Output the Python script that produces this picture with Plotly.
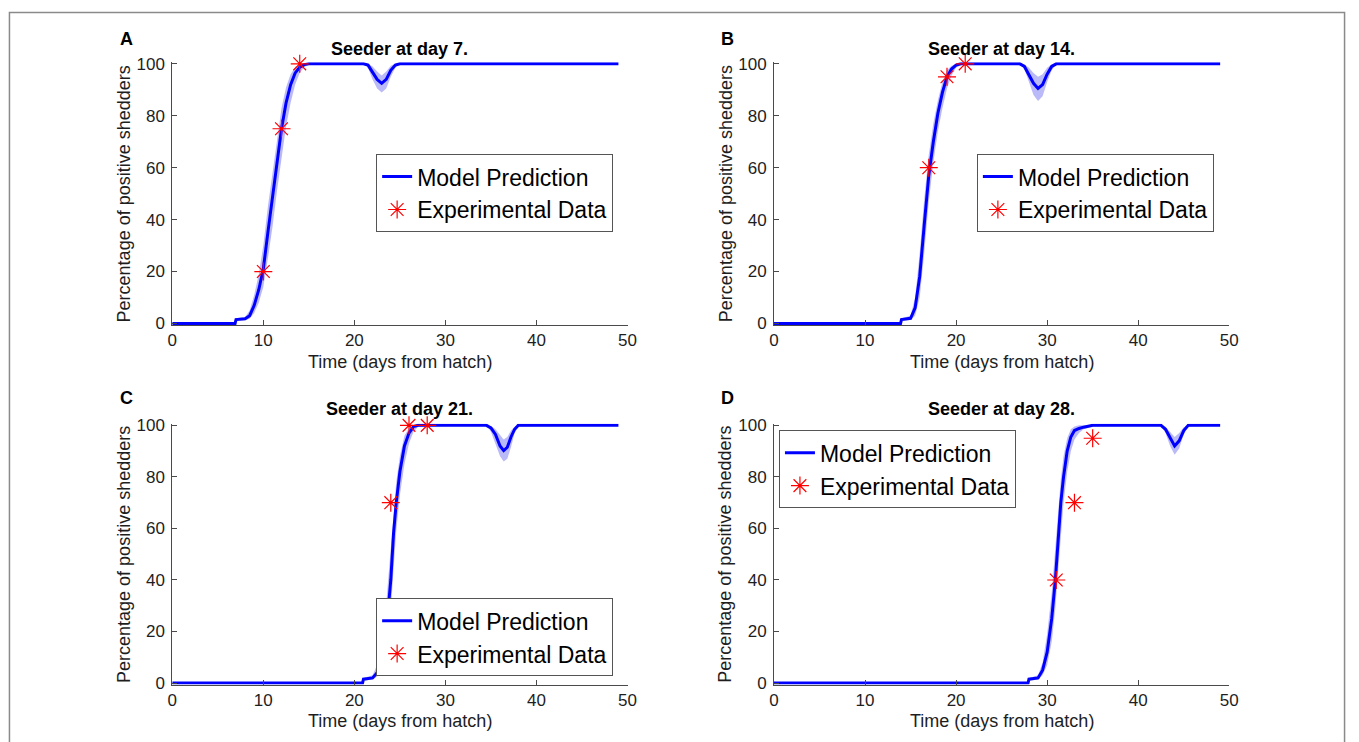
import plotly.graph_objects as go

# ---- data -------------------------------------------------------------
panel_letters = ["A", "B", "C", "D"]
panel_titles = ["Seeder at day 7.", "Seeder at day 14.", "Seeder at day 21.", "Seeder at day 28."]

# panel A: seeder introduced at day 7
t_a = [0, 6.9, 7, 8, 8.5, 9, 9.5, 10, 10.5, 11, 11.5, 12, 12.5, 13, 13.5, 14, 14.5, 15, 15.5,
       21, 21.5, 22, 22.5, 23, 23.5, 24, 24.5, 25, 49]
model_a = [0, 0, 1.5, 1.8, 3, 7, 13, 21, 35, 48, 62, 75, 85, 92, 96.5, 98.7, 99.7, 100, 100,
           100, 99.5, 97, 94, 92.5, 94, 97.5, 99.5, 100, 100]
upper_a = [0, 0, 2, 2.5, 5, 11, 19, 30, 45, 58, 71, 83, 91, 96, 98.8, 99.8, 100, 100, 100,
           100, 100, 99, 97, 95.5, 97, 99.3, 100, 100, 100]
lower_a = [0, 0, 1, 1.2, 1.8, 4, 8, 14, 25, 37, 51, 64, 76, 85, 92, 96.5, 98.8, 99.7, 100,
           100, 98.5, 94, 90.5, 89, 90.5, 95, 98.5, 99.8, 100]
obs_t_a = [10, 12, 14]
obs_v_a = [20, 75, 100]

# panel B: seeder introduced at day 14
t_b = [0, 13.9, 14, 15, 15.5, 16, 16.5, 17, 17.5, 18, 18.5, 19, 19.5, 20, 20.5, 21,
       27, 27.5, 28, 28.5, 29, 29.5, 30, 30.5, 31, 49]
model_b = [0, 0, 1.5, 2, 6, 18, 38, 57, 70, 81, 89, 95, 98, 99.5, 100, 100,
           100, 99, 96, 92.5, 90.5, 92, 96, 99, 100, 100]
upper_b = [0, 0, 2, 3, 10, 27, 48, 65, 77, 86, 93, 97.5, 99.3, 100, 100, 100,
           100, 99.7, 98.5, 96.5, 95, 96, 98.5, 99.8, 100, 100]
lower_b = [0, 0, 1, 1.3, 3, 10, 27, 47, 62, 74, 83, 90.5, 95.5, 98.5, 99.5, 100,
           100, 98, 93, 88, 85.7, 87.5, 93, 97.5, 99.7, 100]
obs_t_b = [17, 19, 21]
obs_v_b = [60, 95, 100]

# panel C: seeder introduced at day 21
t_c = [0, 20.9, 21, 22, 22.5, 23, 23.5, 24, 24.3, 24.6, 25, 25.5, 26, 26.5, 27,
       34.5, 35, 35.5, 36, 36.4, 36.8, 37.2, 37.6, 38, 49]
model_c = [0, 0, 1.5, 2, 4, 9, 20, 40, 58, 70, 82, 92, 97, 99.5, 100,
           100, 99, 96.5, 92, 90.2, 91.5, 95.5, 98.5, 100, 100]
upper_c = [0, 0, 2, 3, 7, 15, 31, 53, 67, 78, 88, 96, 99, 100, 100,
           100, 99.8, 98.5, 96, 94.5, 95.5, 98, 99.5, 100, 100]
lower_c = [0, 0, 1, 1.3, 2.5, 5, 12, 28, 44, 59, 73, 85, 93, 97.5, 99.5,
           100, 97.5, 93, 88, 86, 87, 91.5, 97, 99.5, 100]
obs_t_c = [24, 26, 28]
obs_v_c = [70, 100, 100]

# panel D: seeder introduced at day 28
t_d = [0, 27.9, 28, 29, 29.5, 30, 30.5, 30.9, 31.2, 31.5, 31.8, 32.2, 32.6, 33, 33.5, 34, 35,
       42.5, 43, 43.5, 44, 44.5, 45, 45.5, 49]
model_d = [0, 0, 1.5, 2, 5, 12, 25, 40, 55, 70, 80, 90, 95.5, 98, 98.8, 99.3, 100,
           100, 98.5, 95, 92, 94, 98, 100, 100]
upper_d = [0, 0, 2, 3, 8, 19, 35, 52, 67, 79, 88, 95, 98.5, 99.6, 100, 100, 100,
           100, 99.5, 97.5, 95.5, 97, 99.3, 100, 100]
lower_d = [0, 0, 1, 1.3, 3, 7, 16, 29, 43, 58, 70, 82, 90, 94.5, 97, 98.5, 99.5,
           100, 97, 92, 88.6, 91, 96.5, 99.5, 100]
obs_t_d = [31, 33, 35]
obs_v_d = [40, 70, 95]

x_ticks = [0, 10, 20, 30, 40, 50]
y_ticks = [0, 20, 40, 60, 80, 100]

# ---- layout geometry (pixels) -------------------------------------------
W, H = 1359, 742
FONT = "Liberation Sans, Arial, Helvetica, sans-serif"
Y_RANGE = [-0.6, 100.6]
X_RANGE = [0, 50]

# (left, right, y at value 0, y at value 100)
boxes = [
    (169, 629, 323, 58),
    (777, 1237, 323, 58),
    (169, 629, 690, 427),
    (777, 1237, 690, 427),
]
# legend anchor point and vertical anchoring
legend_pos = [(375, 190, "middle"), (982, 190, "middle"), (375, 683, "bottom"), (782, 432, "top")]
letter_pos = [(123, 33), (730, 33), (123, 399), (730, 399)]
title_y = [43, 43, 410, 410]

panels = [
    (t_a, model_a, upper_a, lower_a, obs_t_a, obs_v_a),
    (t_b, model_b, upper_b, lower_b, obs_t_b, obs_v_b),
    (t_c, model_c, upper_c, lower_c, obs_t_c, obs_v_c),
    (t_d, model_d, upper_d, lower_d, obs_t_d, obs_v_d),
]


def py_of(v, y0, y100):
    return y0 - (y0 - y100) * v / 100.0


fig = go.Figure()
annotations = []
layout_axes = {}

for i, (t, model, upper, lower, ot, ov) in enumerate(panels):
    n = i + 1
    xa = "x" if n == 1 else f"x{n}"
    ya = "y" if n == 1 else f"y{n}"
    leg = "legend" if n == 1 else f"legend{n}"
    left, right, y0, y100 = boxes[i]

    # uncertainty band
    fig.add_trace(go.Scatter(x=t, y=lower, xaxis=xa, yaxis=ya, mode="lines",
                             line=dict(width=0, color="rgba(0,0,255,0)"),
                             showlegend=False, hoverinfo="skip"))
    fig.add_trace(go.Scatter(x=t, y=upper, xaxis=xa, yaxis=ya, mode="lines",
                             line=dict(width=0, color="rgba(0,0,255,0)"),
                             fill="tonexty", fillcolor="rgba(40,40,235,0.32)",
                             showlegend=False, hoverinfo="skip"))
    # model curve
    fig.add_trace(go.Scatter(x=t, y=model, xaxis=xa, yaxis=ya, mode="lines",
                             line=dict(width=3, color="rgb(0,0,255)"),
                             name="Model Prediction", legend=leg))
    # experimental points
    fig.add_trace(go.Scatter(x=ot, y=ov, xaxis=xa, yaxis=ya, mode="markers",
                             marker=dict(symbol="asterisk-open", size=15, color="red",
                                         line=dict(color="red", width=1.2)),
                             cliponaxis=False, name="Experimental Data", legend=leg))

    dom_x = [left / W, right / W]
    dom_y = [1 - py_of(Y_RANGE[0], y0, y100) / H, 1 - py_of(Y_RANGE[1], y0, y100) / H]

    axis_common = dict(showgrid=False, zeroline=False, showline=True, linecolor="#4a4a4a",
                       linewidth=1, ticks="inside", ticklen=5, tickwidth=1, tickcolor="#4a4a4a",
                       tickfont=dict(family=FONT, size=17, color="#1e1e1e"), mirror=False)
    layout_axes["xaxis" if n == 1 else f"xaxis{n}"] = dict(
        domain=dom_x, range=X_RANGE, tickvals=x_ticks, anchor=ya, ticklabelstandoff=0,
        **axis_common)
    layout_axes["yaxis" if n == 1 else f"yaxis{n}"] = dict(
        domain=dom_y, range=Y_RANGE, tickvals=y_ticks, anchor=xa, ticklabelstandoff=3,
        **axis_common)

    lx, ly, lanchor = legend_pos[i]
    layout_axes[leg] = dict(x=lx / W, y=1 - ly / H, xanchor="left", yanchor=lanchor,
                            xref="paper", yref="paper", traceorder="normal",
                            bgcolor="white", bordercolor="#555555", borderwidth=1,
                            font=dict(family=FONT, size=23, color="black"),
                            tracegroupgap=0, itemwidth=30)

    cx = (left + right) / 2
    # panel title
    annotations.append(dict(text=f"<b>{panel_titles[i]}</b>", x=cx / W, y=1 - title_y[i] / H,
                            xref="paper", yref="paper", showarrow=False, xanchor="center",
                            yanchor="middle", font=dict(family=FONT, size=18, color="black")))
    # panel letter
    px_, py_ = letter_pos[i]
    annotations.append(dict(text=f"<b>{panel_letters[i]}</b>", x=px_ / W, y=1 - py_ / H,
                            xref="paper", yref="paper", showarrow=False, xanchor="center",
                            yanchor="middle", font=dict(family=FONT, size=18, color="black")))
    # axis titles
    annotations.append(dict(text="Time (days from hatch)", x=cx / W, y=1 - (y0 + 39) / H,
                            xref="paper", yref="paper", showarrow=False, xanchor="center",
                            yanchor="middle", font=dict(family=FONT, size=18, color="#1e1e1e")))
    annotations.append(dict(text="Percentage of positive shedders", x=(left - 49) / W,
                            y=1 - ((y0 + y100) / 2) / H, textangle=-90,
                            xref="paper", yref="paper", showarrow=False, xanchor="center",
                            yanchor="middle", font=dict(family=FONT, size=18, color="#1e1e1e")))

fig.update_layout(
    width=W, height=H, autosize=False,
    margin=dict(l=0, r=0, t=0, b=0),
    paper_bgcolor="white", plot_bgcolor="white",
    annotations=annotations,
    shapes=[dict(type="rect", xref="paper", yref="paper",
                 x0=4.5 / W, x1=1353.5 / W, y0=-0.05, y1=1 - 5.5 / H,
                 line=dict(color="#8a8a8a", width=1.5), fillcolor="rgba(0,0,0,0)", layer="below")],
    **layout_axes,
)

fig.write_html("out.html")
